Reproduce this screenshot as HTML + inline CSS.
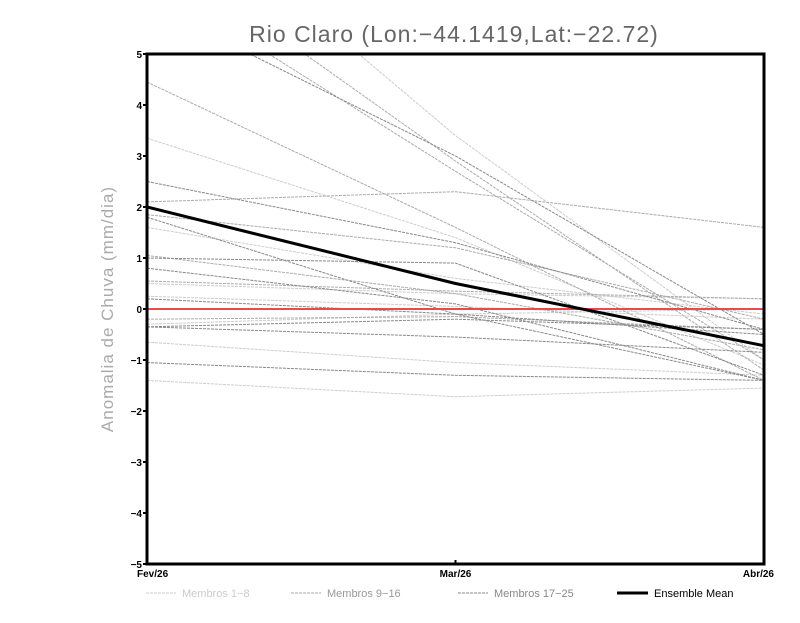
<!DOCTYPE html>
<html><head><meta charset="utf-8"><style>
body{margin:0;background:#fff;}
svg text{font-family:"Liberation Sans",sans-serif;}
</style></head><body>
<svg id="chart" width="800" height="618" xmlns="http://www.w3.org/2000/svg">
<defs><clipPath id="clip"><rect x="147" y="54" width="617" height="510"/></clipPath></defs>
<rect width="800" height="618" fill="#fff"/>
<text x="454" y="42" text-anchor="middle" font-size="23" fill="#666" letter-spacing="1">Rio Claro (Lon:−44.1419,Lat:−22.72)</text>
<text transform="translate(113,309) rotate(-90)" text-anchor="middle" font-size="17" fill="#aaa" letter-spacing="1">Anomalia de Chuva (mm/dia)</text>
<g id="series" clip-path="url(#clip)"></g>
<g id="axes"></g>
<g id="legend">
<line x1="146" y1="593" x2="176" y2="593" stroke="#ccc" stroke-dasharray="3,1"/>
<text x="182" y="597" font-size="11" fill="#ccc">Membros 1−8</text>
<line x1="291" y1="593" x2="321" y2="593" stroke="#aaa" stroke-dasharray="3,1"/>
<text x="327" y="597" font-size="11" fill="#999">Membros 9−16</text>
<line x1="458" y1="593" x2="488" y2="593" stroke="#888" stroke-dasharray="3,1"/>
<text x="494" y="597" font-size="11" fill="#888">Membros 17−25</text>
<line x1="617" y1="593" x2="648" y2="593" stroke="#000" stroke-width="3"/>
<text x="654" y="597" font-size="11" fill="#000">Ensemble Mean</text>
</g>
</svg>
<script>
const categories = ["Fev/26","Mar/26","Abr/26"];
const yTicks = [-5,-4,-3,-2,-1,0,1,2,3,4,5];
const membersLight = [[3.35,1.4,-1.1],[8.5,3.4,-1.0],[1.6,0.6,-0.1],[-0.65,-1.05,-1.3],[-1.4,-1.72,-1.55],[0.5,0.3,0.2],[0.25,0.05,-0.2],[-0.3,-0.1,0.0]];
const membersMid = [[4.45,1.6,-1.4],[6.5,2.7,-1.0],[2.1,2.3,1.6],[1.85,1.2,-0.2],[1.05,0.3,-0.8],[0.55,0.35,0.2],[-0.2,-0.15,-0.4],[7.2,2.9,-1.2]];
const membersDark = [[6.0,3.0,-0.5],[2.5,1.3,-0.4],[1.8,-0.1,-0.5],[0.8,0.1,-1.4],[0.2,-0.1,-1.4],[-0.35,-0.2,-0.4],[-0.35,-0.55,-0.85],[-1.05,-1.3,-1.4],[1.0,0.9,-1.3]];
const ensembleMean = [2.0,0.5,-0.72];
const zeroLine = [0,0,0];

const X0=147,X1=764,Y0=564,Y1=54;
const xs=i=>X0+(X1-X0)*i/(categories.length-1);
const ys=v=>Y0-(v+5)/10*(Y0-Y1);
const NS="http://www.w3.org/2000/svg";
const sg=document.getElementById('series'), ag=document.getElementById('axes');
function mk(t,a,p){const e=document.createElementNS(NS,t);for(const k in a)e.setAttribute(k,a[k]);p.appendChild(e);return e;}
function pts(arr){return arr.map((v,i)=>xs(i)+','+ys(v)).join(' ');}
membersLight.forEach((s,i)=>{const e=mk('polyline',{points:pts(s),fill:'none',stroke:'#ccc','stroke-width':1,'stroke-dasharray':'3,1'},sg);

});
membersMid.forEach((s,i)=>{const e=mk('polyline',{points:pts(s),fill:'none',stroke:'#aaa','stroke-width':1,'stroke-dasharray':'3,1'},sg);

});
membersDark.forEach((s,i)=>{const e=mk('polyline',{points:pts(s),fill:'none',stroke:'#888','stroke-width':1,'stroke-dasharray':'3,1'},sg);

});
const z=mk('polyline',{points:pts(zeroLine),fill:'none',stroke:'#f04848','stroke-width':2},sg);


const m=mk('polyline',{points:pts(ensembleMean),fill:'none',stroke:'#000','stroke-width':3},sg);


const fr=mk('rect',{x:X0,y:Y1,width:X1-X0,height:Y0-Y1,fill:'none',stroke:'#000','stroke-width':3},ag);


yTicks.forEach(v=>{mk('line',{x1:X0-4,x2:X0,y1:ys(v),y2:ys(v),stroke:'#000','stroke-width':2},ag);
const t=mk('text',{x:X0-5,y:ys(v)+4,'text-anchor':'end','font-size':10,'font-weight':'bold',fill:'#000'},ag);
t.textContent=String(v).replace('-','−');

});
categories.forEach((c,i)=>{mk('line',{x1:xs(i),x2:xs(i),y1:Y0,y2:Y0-4,stroke:'#000','stroke-width':2},ag);
const t=mk('text',{x:xs(i)+(i===0?-10:i===2?10:0),y:Y0+13,'text-anchor':i===0?'start':i===2?'end':'middle','font-size':10,'font-weight':'bold',fill:'#000'},ag);
t.textContent=c;

});
</script>
</body></html>
